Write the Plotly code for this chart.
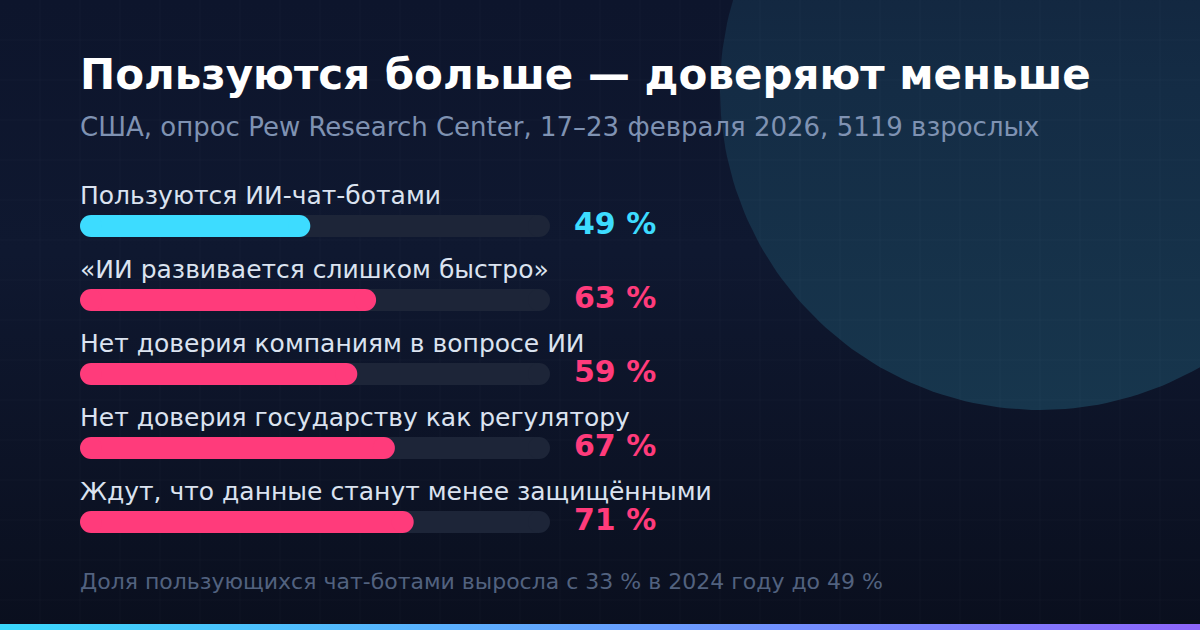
import math
import plotly.graph_objects as go

# данные опроса
labels = [
    "Пользуются ИИ-чат-ботами",
    "«ИИ развивается слишком быстро»",
    "Нет доверия компаниям в вопросе ИИ",
    "Нет доверия государству как регулятору",
    "Ждут, что данные станут менее защищёнными",
]
values = [49, 63, 59, 67, 71]
value_text = ["49 %", "63 %", "59 %", "67 %", "71 %"]

title = "Пользуются больше — доверяют меньше"
subtitle = "США, опрос Pew Research Center, 17–23 февраля 2026, 5119 взрослых"
footer = "Доля пользующихся чат-ботами выросла с 33 % в 2024 году до 49 %"

W, H = 1200, 630
FONT = "DejaVu Sans"
CYAN = "#3ddcff"
PINK = "#ff3b7b"
TRACK = "#1d2538"

BAR_X0, BAR_X1 = 80, 550        # пиксели шкалы 0..100
BAR_H = 22
cap = (BAR_H / 2) * 100 / (BAR_X1 - BAR_X0)   # радиус скругления в единицах шкалы

row_y = [226 + 74 * i for i in range(len(values))]
bar_colors = [CYAN] + [PINK] * (len(values) - 1)

fig = go.Figure()

# фон
fig.add_trace(go.Scatter(
    x=[0, W, W, 0, 0], y=[0, 0, H, H, 0], mode="lines", fill="toself",
    line=dict(width=0), hoverinfo="skip", showlegend=False,
    fillgradient=dict(type="vertical",
                      colorscale=[[0, "#0a0f1e"], [0.6, "#0f1830"], [1, "#0d152c"]]),
))

# круг справа сверху
cx, cy, r = 1040, 90, 320
ang = [2 * math.pi * k / 240 for k in range(241)]
fig.add_trace(go.Scatter(
    x=[cx + r * math.cos(a) for a in ang], y=[cy + r * math.sin(a) for a in ang],
    mode="lines", fill="toself", line=dict(width=0), hoverinfo="skip", showlegend=False,
    fillgradient=dict(type="vertical",
                      colorscale=[[0, "#17364d"], [0.5, "#142c45"], [1, "#101d36"]]),
))

# сетка
gx, gy = [], []
for x in range(40, W, 40):
    gx += [x, x, None]
    gy += [0, H, None]
for y in range(40, H, 40):
    gx += [0, W, None]
    gy += [y, y, None]
fig.add_trace(go.Scatter(x=gx, y=gy, mode="lines", hoverinfo="skip", showlegend=False,
                         line=dict(color="rgba(255,255,255,0.028)", width=1)))

# полоса снизу
fig.add_trace(go.Scatter(
    x=[0, W, W, 0, 0], y=[624, 624, H, H, 624], mode="lines", fill="toself",
    line=dict(width=0), hoverinfo="skip", showlegend=False,
    fillgradient=dict(type="horizontal",
                      colorscale=[[0, "#3ad8fc"], [0.55, "#6a9dff"], [1, "#8d66fb"]]),
))

# дорожки: прямоугольник + круглый правый конец (левый закрыт цветным столбиком)
fig.add_trace(go.Bar(
    x=[100 - 2 * cap] * len(values), base=[cap] * len(values), y=row_y,
    orientation="h", width=BAR_H, marker=dict(color=TRACK, line=dict(width=0)),
    xaxis="x2", yaxis="y2", hoverinfo="skip", showlegend=False,
))
# столбики
fig.add_trace(go.Bar(
    x=[v - 2 * cap for v in values], base=[cap] * len(values), y=row_y,
    orientation="h", width=BAR_H, marker=dict(color=bar_colors, line=dict(width=0)),
    xaxis="x2", yaxis="y2", hoverinfo="skip", showlegend=False,
))
fig.add_trace(go.Scatter(
    x=[100 - cap] * len(values), y=row_y, mode="markers",
    marker=dict(size=BAR_H, color=TRACK, line=dict(width=0)),
    xaxis="x2", yaxis="y2", hoverinfo="skip", showlegend=False,
))
ends_x, ends_y, ends_c = [], [], []
for v, yv, c in zip(values, row_y, bar_colors):
    ends_x += [cap, v - cap]
    ends_y += [yv, yv]
    ends_c += [c, c]
fig.add_trace(go.Scatter(
    x=ends_x, y=ends_y, mode="markers",
    marker=dict(size=BAR_H, color=ends_c, line=dict(width=0)),
    xaxis="x2", yaxis="y2", hoverinfo="skip", showlegend=False,
))

ann = [
    dict(x=78, y=74, text=f"<b>{title}</b>", font=dict(size=42, color="#ffffff")),
    dict(x=78, y=127, text=subtitle, font=dict(size=26, color="#7f92b2")),
    dict(x=78, y=581, text=footer, font=dict(size=22, color="#52627f")),
]
for lab, yv, vt, col in zip(labels, row_y, value_text, bar_colors):
    ann.append(dict(x=78, y=yv - 31, text=lab, font=dict(size=25, color="#dbe3f0")))
    ann.append(dict(x=572, y=yv - 2.5, text=f"<b>{vt}</b>", font=dict(size=30, color=col)))
for a in ann:
    a.update(xref="x", yref="y", xanchor="left", yanchor="middle", showarrow=False)
    a["font"]["family"] = FONT

fig.update_layout(
    width=W, height=H, margin=dict(l=0, r=0, t=0, b=0),
    paper_bgcolor="#0b1122", plot_bgcolor="rgba(0,0,0,0)",
    barmode="overlay", bargap=0,
    font=dict(family=FONT),
    xaxis=dict(range=[0, W], visible=False, fixedrange=True),
    yaxis=dict(range=[H, 0], visible=False, fixedrange=True),
    xaxis2=dict(domain=[BAR_X0 / W, BAR_X1 / W], range=[0, 100], visible=False,
                anchor="y2", fixedrange=True),
    yaxis2=dict(domain=[0, 1], range=[H, 0], visible=False, anchor="x2",
                fixedrange=True),
    annotations=ann,
)

fig.write_html("out.html", config={"displayModeBar": False},
               post_script="document.body.style.margin='0';")
